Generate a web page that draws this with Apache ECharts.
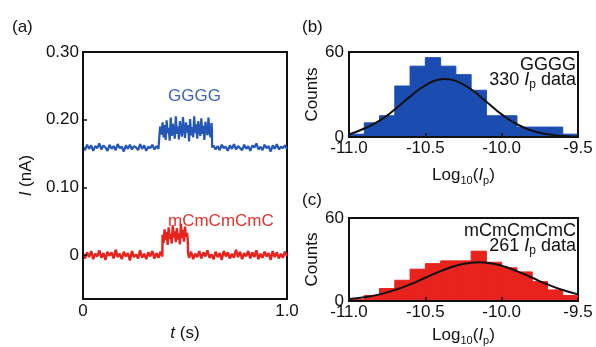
<!DOCTYPE html>
<html>
<head>
<meta charset="utf-8">
<title>Current traces and Ip histograms</title>
<script src="https://cdn.jsdelivr.net/npm/echarts@6.0.0/dist/echarts.min.js"></script>
<style>
  html, body { margin: 0; padding: 0; background: #fff; }
  #chart { width: 596px; height: 347px; }
</style>
</head>
<body>
<div id="chart"></div>
<script>
// --- data: panel (a) current traces, [t (s), I (nA)] ---
const ggggTrace = [
  [0.00,0.160],[0.01,0.155],[0.02,0.163],[0.03,0.157],[0.04,0.162],[0.05,0.154],[0.06,0.161],[0.07,0.158],[0.08,0.165],[0.09,0.156],
  [0.10,0.162],[0.11,0.159],[0.12,0.154],[0.13,0.163],[0.14,0.157],[0.15,0.161],[0.16,0.155],[0.17,0.164],[0.18,0.158],[0.19,0.160],
  [0.20,0.153],[0.21,0.162],[0.22,0.157],[0.23,0.163],[0.24,0.156],[0.25,0.161],[0.26,0.159],[0.27,0.155],[0.28,0.164],[0.29,0.157],
  [0.30,0.162],[0.31,0.154],[0.32,0.160],[0.33,0.158],[0.34,0.163],[0.35,0.156],[0.36,0.161],[0.37,0.157],[0.377,0.159],
  [0.378,0.190],[0.385,0.178],[0.390,0.196],[0.395,0.174],[0.400,0.192],[0.405,0.170],[0.410,0.199],[0.415,0.180],[0.420,0.188],
  [0.425,0.169],[0.430,0.203],[0.435,0.176],[0.440,0.194],[0.445,0.183],[0.450,0.172],[0.455,0.205],[0.460,0.179],[0.465,0.190],
  [0.470,0.171],[0.475,0.198],[0.480,0.184],[0.485,0.175],[0.490,0.204],[0.495,0.186],[0.500,0.173],[0.505,0.196],[0.510,0.181],
  [0.515,0.192],[0.520,0.168],[0.525,0.201],[0.530,0.177],[0.535,0.189],[0.540,0.174],[0.545,0.205],[0.550,0.180],[0.555,0.193],
  [0.560,0.172],[0.565,0.198],[0.570,0.185],[0.575,0.176],[0.580,0.202],[0.585,0.179],[0.590,0.191],[0.595,0.170],[0.600,0.197],
  [0.605,0.184],[0.610,0.177],[0.615,0.203],[0.620,0.182],[0.625,0.174],[0.630,0.195],[0.632,0.186],
  [0.633,0.159],[0.64,0.162],[0.65,0.156],[0.66,0.161],[0.67,0.155],[0.68,0.163],[0.69,0.158],[0.70,0.160],[0.71,0.154],[0.72,0.162],
  [0.73,0.157],[0.74,0.164],[0.75,0.156],[0.76,0.161],[0.77,0.158],[0.78,0.155],[0.79,0.163],[0.80,0.157],[0.81,0.161],[0.82,0.154],
  [0.83,0.162],[0.84,0.159],[0.85,0.165],[0.86,0.156],[0.87,0.160],[0.88,0.155],[0.89,0.163],[0.90,0.158],[0.91,0.161],[0.92,0.153],
  [0.93,0.162],[0.94,0.157],[0.95,0.164],[0.96,0.156],[0.97,0.160],[0.98,0.158],[0.99,0.162],[1.00,0.157]
];

const mcTrace = [
  [0.00,0.001],[0.01,-0.005],[0.02,0.004],[0.03,-0.003],[0.04,0.006],[0.05,-0.006],[0.06,0.002],[0.07,-0.002],[0.08,0.007],[0.09,-0.004],
  [0.10,0.003],[0.11,-0.007],[0.12,0.005],[0.13,-0.001],[0.14,0.004],[0.15,-0.005],[0.16,0.008],[0.17,-0.003],[0.18,0.002],[0.19,-0.006],
  [0.20,0.005],[0.21,-0.002],[0.22,0.003],[0.23,-0.008],[0.24,0.006],[0.25,-0.003],[0.26,0.001],[0.27,-0.005],[0.28,0.007],[0.29,-0.004],
  [0.30,0.002],[0.31,-0.006],[0.32,0.004],[0.33,-0.002],[0.34,0.006],[0.35,-0.005],[0.36,0.003],[0.37,-0.004],[0.38,0.005],[0.389,-0.002],
  [0.390,0.030],[0.395,0.018],[0.400,0.038],[0.405,0.022],[0.410,0.034],[0.415,0.015],[0.420,0.041],[0.425,0.024],[0.430,0.031],[0.435,0.017],
  [0.440,0.044],[0.445,0.026],[0.450,0.035],[0.455,0.019],[0.460,0.040],[0.465,0.023],[0.470,0.032],[0.475,0.016],[0.480,0.046],[0.485,0.025],
  [0.490,0.037],[0.495,0.020],[0.500,0.042],[0.505,0.027],[0.510,0.033],[0.514,0.021],
  [0.515,0.003],[0.52,-0.004],[0.53,0.005],[0.54,-0.006],[0.55,0.002],[0.56,-0.003],[0.57,0.006],[0.58,-0.005],[0.59,0.004],[0.60,-0.002],
  [0.61,0.007],[0.62,-0.004],[0.63,0.001],[0.64,-0.006],[0.65,0.005],[0.66,-0.003],[0.67,0.003],[0.68,-0.007],[0.69,0.006],[0.70,-0.002],
  [0.71,0.004],[0.72,-0.005],[0.73,0.002],[0.74,-0.004],[0.75,0.008],[0.76,-0.003],[0.77,0.005],[0.78,-0.006],[0.79,0.003],[0.80,-0.002],
  [0.81,0.006],[0.82,-0.005],[0.83,0.004],[0.84,-0.003],[0.85,0.007],[0.86,-0.006],[0.87,0.002],[0.88,-0.004],[0.89,0.005],[0.90,-0.002],
  [0.91,0.003],[0.92,-0.007],[0.93,0.006],[0.94,-0.003],[0.95,0.004],[0.96,-0.005],[0.97,0.002],[0.98,-0.004],[0.99,0.005],[1.00,-0.001]
];

const currentTicks = [0, 0.10, 0.20, 0.30];

// --- data: panels (b)(c) histograms of log10(Ip) ---
const binEdges = [-11.0, -10.9, -10.8, -10.7, -10.6, -10.5, -10.4, -10.3, -10.2, -10.1, -10.0, -9.9, -9.8, -9.7, -9.6, -9.5];
const ggggCounts = [2, 10, 15, 36, 50, 56, 50, 44, 33, 15, 15, 7, 7, 7, 2];
const mcCounts = [1, 4, 9, 15, 23, 27, 29, 29, 36, 28, 24, 21, 14, 8, 4];

// gaussian fit curves
const ggggFit = [
  [-11.0,1.8],[-10.9,6.0],[-10.8,11.5],[-10.7,19.4],[-10.6,28.5],[-10.5,36.5],[-10.4,40.7],[-10.37,41.0],
  [-10.3,39.6],[-10.2,33.6],[-10.1,24.9],[-10.0,16.0],[-9.9,9.0],[-9.8,4.4],[-9.7,1.9],[-9.6,0.7],[-9.5,0.2]
];
const mcFit = [
  [-11.0,1.4],[-10.9,2.7],[-10.8,4.8],[-10.7,7.9],[-10.6,12.0],[-10.5,16.8],[-10.4,21.6],[-10.3,25.5],[-10.2,27.7],
  [-10.15,28.0],[-10.1,27.7],[-10.0,25.5],[-9.9,21.6],[-9.8,16.8],[-9.7,12.0],[-9.6,7.9],[-9.5,4.8]
];

// --- styles ---
const FONT = '"Liberation Sans", Arial, sans-serif';
const INK = '#111';
const BLUE_LINE = '#2456b8';
const BLUE_BAR = '#1b4db1';
const RED = '#e8221c';

const subRich = {
  n: { fontFamily: FONT, fontSize: 17, color: INK, lineHeight: 22 },
  it: { fontFamily: FONT, fontSize: 17, color: INK, fontStyle: 'italic', lineHeight: 22 },
  sub: { fontFamily: FONT, fontSize: 11, color: INK, lineHeight: 11, verticalAlign: 'bottom' }
};

const frameLine = { show: true, onZero: false, lineStyle: { color: INK, width: 2 } };

const histBins = (counts) => counts.map((c, i) => [binEdges[i], binEdges[i + 1], c]);

const histSeries = (idx, counts, color) => ({
  type: 'custom',
  xAxisIndex: idx,
  yAxisIndex: idx,
  data: histBins(counts),
  encode: { x: [0, 1], y: 2 },
  clip: true,
  renderItem: (params, api) => {
    const p0 = api.coord([api.value(0), 0]);
    const p1 = api.coord([api.value(1), api.value(2)]);
    return {
      type: 'rect',
      shape: { x: p0[0], y: p1[1], width: p1[0] - p0[0], height: p0[1] - p1[1] },
      style: { fill: color, stroke: color, lineWidth: 1 }
    };
  }
});

const fitSeries = (idx, data) => ({
  type: 'line',
  xAxisIndex: idx,
  yAxisIndex: idx,
  data: data,
  smooth: true,
  symbol: 'none',
  z: 4,
  lineStyle: { color: INK, width: 2 }
});

const logAxis = (idx, gap) => ({
  type: 'value',
  gridIndex: idx,
  min: -11.0,
  max: -9.5,
  interval: 0.5,
  z: 5,
  axisLine: frameLine,
  axisTick: { show: true, inside: true, length: 4, lineStyle: { color: INK, width: 1.5 } },
  splitLine: { show: false },
  axisLabel: { color: INK, fontFamily: FONT, fontSize: 17, margin: 3, formatter: v => v.toFixed(1) },
  name: '{n|Log}{sub|10}{n|(}{it|I}{sub|p}{n|)}',
  nameLocation: 'middle',
  nameGap: gap,
  nameTextStyle: { fontFamily: FONT, fontSize: 17, color: INK, rich: subRich }
});

const countAxis = (idx) => ({
  type: 'value',
  gridIndex: idx,
  min: 0,
  max: 60,
  interval: 60,
  z: 5,
  axisLine: frameLine,
  axisTick: { show: false },
  splitLine: { show: false },
  axisLabel: { color: INK, fontFamily: FONT, fontSize: 17, margin: 5 },
  name: 'Counts',
  nameLocation: 'middle',
  nameGap: 20,
  nameTextStyle: { fontFamily: FONT, fontSize: 17, color: INK }
});

const txt = (x, y, text, opts) => ({
  type: 'text',
  x: x,
  y: y,
  z: 10,
  style: Object.assign({
    text: text,
    fontFamily: FONT,
    fontSize: 17,
    fill: INK,
    align: 'left',
    verticalAlign: 'middle'
  }, opts || {})
});

const noteRich = {
  it: { fontFamily: FONT, fontSize: 18, fontStyle: 'italic', fill: INK, lineHeight: 22 },
  sub: { fontFamily: FONT, fontSize: 12, fill: INK, lineHeight: 12, verticalAlign: 'bottom' }
};

const chart = echarts.init(document.getElementById('chart'), null, { renderer: 'canvas' });

chart.setOption({
  animation: false,
  backgroundColor: '#fff',
  grid: [
    { left: 83, top: 52, width: 204, height: 256, show: true, borderColor: INK, borderWidth: 2 },
    { left: 349, top: 52, width: 229, height: 85, show: true, borderColor: INK, borderWidth: 2 },
    { left: 349, top: 218, width: 229, height: 84, show: true, borderColor: INK, borderWidth: 2 }
  ],
  xAxis: [
    {
      type: 'value',
      gridIndex: 0,
      min: 0,
      max: 1,
      interval: 1,
      z: 5,
      axisLine: frameLine,
      axisTick: { show: false },
      splitLine: { show: false },
      axisLabel: { color: INK, fontFamily: FONT, fontSize: 17, margin: 4, formatter: v => (v === 0 ? '0' : v.toFixed(1)) },
      name: '{it|t} (s)',
      nameLocation: 'middle',
      nameGap: 18,
      nameTextStyle: { fontFamily: FONT, fontSize: 17, color: INK, rich: subRich }
    },
    logAxis(1, 27),
    logAxis(2, 23)
  ],
  yAxis: [
    {
      type: 'value',
      gridIndex: 0,
      min: -0.065,
      max: 0.30,
      z: 5,
      axisLine: frameLine,
      axisTick: { show: true, inside: true, length: 4, customValues: currentTicks, lineStyle: { color: INK, width: 1.5 } },
      splitLine: { show: false },
      axisLabel: {
        color: INK, fontFamily: FONT, fontSize: 17, margin: 4,
        customValues: currentTicks,
        formatter: v => (Math.abs(v) < 1e-9 ? '0' : v.toFixed(2))
      },
      name: '{it|I} (nA)',
      nameLocation: 'middle',
      nameGap: 46,
      nameTextStyle: { fontFamily: FONT, fontSize: 17, color: INK, rich: subRich }
    },
    countAxis(1),
    countAxis(2)
  ],
  series: [
    {
      name: 'GGGG',
      type: 'line',
      xAxisIndex: 0,
      yAxisIndex: 0,
      data: ggggTrace,
      symbol: 'none',
      lineStyle: { color: BLUE_LINE, width: 2.2 }
    },
    {
      name: 'mCmCmCmC',
      type: 'line',
      xAxisIndex: 0,
      yAxisIndex: 0,
      data: mcTrace,
      symbol: 'none',
      lineStyle: { color: RED, width: 2.4 }
    },
    histSeries(1, ggggCounts, BLUE_BAR),
    fitSeries(1, ggggFit),
    histSeries(2, mcCounts, RED),
    fitSeries(2, mcFit)
  ],
  graphic: [
    txt(12, 27, '(a)'),
    txt(302, 27, '(b)'),
    txt(302, 200, '(c)'),
    txt(168, 96, 'GGGG', { fill: '#3a64b6' }),
    txt(168, 221, 'mCmCmCmC', { fill: '#e5332a' }),
    txt(576, 65, 'GGGG', { align: 'right', fontSize: 18 }),
    txt(576, 80, '330 {it|I}{sub|p} data', { align: 'right', fontSize: 18, rich: noteRich }),
    txt(576, 231, 'mCmCmCmC', { align: 'right', fontSize: 18 }),
    txt(576, 246, '261 {it|I}{sub|p} data', { align: 'right', fontSize: 18, rich: noteRich })
  ]
});
</script>
</body>
</html>
